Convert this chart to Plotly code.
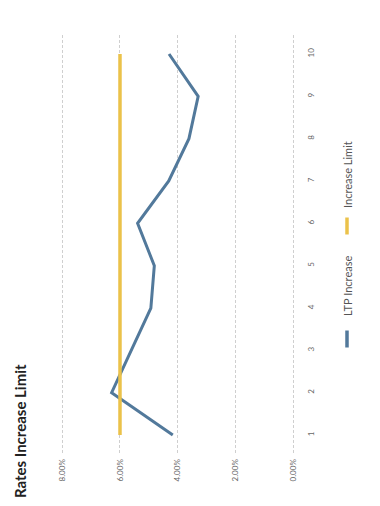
import plotly.graph_objects as go

# Data
periods = [1, 2, 3, 4, 5, 6, 7, 8, 9, 10]
ltp_increase = [4.17, 6.29, 5.61, 4.93, 4.81, 5.39, 4.31, 3.61, 3.29, 4.30]
increase_limit = [6.0] * 10
value_ticks = [0, 2, 4, 6, 8]
value_tick_labels = ["0.00%", "2.00%", "4.00%", "6.00%", "8.00%"]

BLUE = "#52799b"
YELLOW = "#ebc24a"
FONT = "Lato"

W, H = 380, 506
L, R, T, B = 50, 80, 35, 53
PW, PH = W - L - R, H - T - B


def px(x):
    return (x - L) / PW


def py(y):
    return (H - B - y) / PH


fig = go.Figure()
fig.add_trace(go.Scatter(
    x=ltp_increase, y=periods, mode="lines", name="LTP Increase",
    line=dict(color=BLUE, width=3), showlegend=False,
))
fig.add_trace(go.Scatter(
    x=increase_limit, y=periods, mode="lines", name="Increase Limit",
    line=dict(color=YELLOW, width=3.5), showlegend=False,
))

fig.update_layout(
    width=W, height=H,
    margin=dict(l=L, r=R, t=T, b=B),
    paper_bgcolor="white", plot_bgcolor="white",
    font=dict(family=FONT, color="#666"),
    xaxis=dict(
        range=[8.426, 8.426 - PW / 28.85], tickvals=value_ticks,
        ticktext=value_tick_labels, tickangle=-90,
        tickfont=dict(size=8, color="#666"),
        showgrid=True, gridcolor="#cfcfcf", griddash="3px,2px", gridwidth=1,
        zeroline=False, showline=False,
        ticks="outside", ticklen=2, tickcolor="rgba(0,0,0,0)",
    ),
    yaxis=dict(
        range=[0.575, 10.449], tickvals=periods, ticktext=[str(p) for p in periods],
        side="right", tickangle=-90, tickfont=dict(size=8, color="#666"),
        showgrid=False, zeroline=False, showline=False,
        ticks="outside", ticklen=3, tickcolor="rgba(0,0,0,0)",
    ),
)

# Title
fig.add_annotation(
    text="<b>Rates Increase Limit</b>", textangle=-90,
    xref="paper", yref="paper", x=px(20), y=py(431),
    xanchor="center", yanchor="middle",
    showarrow=False, font=dict(size=15, color="#222", family=FONT),
)

# Legend drawn vertically
legend_items = [
    ("LTP Increase", BLUE, 339, 286),
    ("Increase Limit", YELLOW, 226, 175),
]
for label, color, swatch_y, text_y in legend_items:
    fig.add_shape(
        type="line", xref="paper", yref="paper",
        x0=px(347), x1=px(347), y0=py(swatch_y - 8.5), y1=py(swatch_y + 8.5),
        line=dict(color=color, width=3.5),
    )
    fig.add_annotation(
        text=label, textangle=-90, xref="paper", yref="paper",
        x=px(347), y=py(text_y), xanchor="center", yanchor="middle",
        showarrow=False,
        font=dict(size=11, color="#555", family=FONT),
    )

fig.write_html("out.html")
